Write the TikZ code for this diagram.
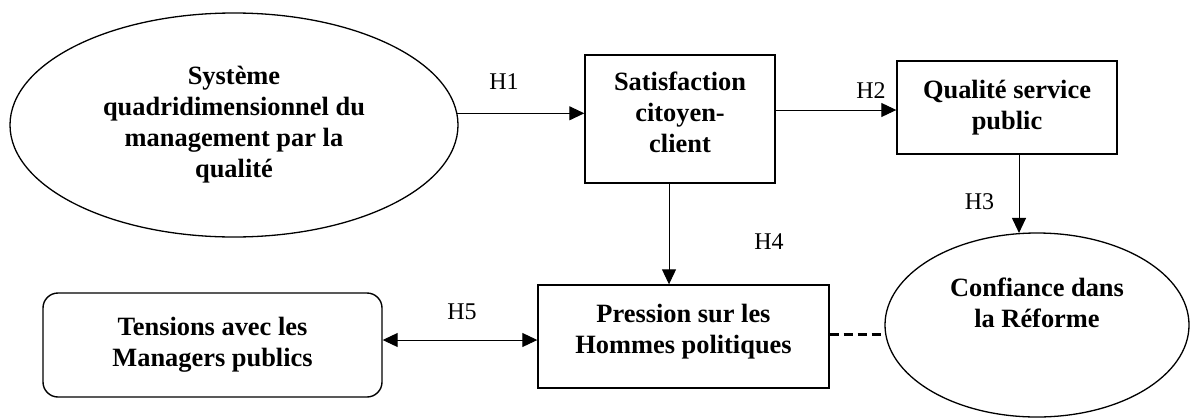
\documentclass[tikz,border=0pt]{standalone}
\usepackage{fontspec}
\setmainfont{Liberation Serif}
\usetikzlibrary{shapes.geometric,arrows.meta}
\newcommand{\diagbf}{\fontsize{26.4}{31}\selectfont\bfseries}
\newcommand{\diaghl}{\fontsize{24}{28}\selectfont}
\begin{document}
\begin{tikzpicture}[x=1pt,y=-1pt,
  box/.style={draw, rectangle, line width=1.4pt, inner sep=0pt, font=\diagbf, align=center},
  rbox/.style={box, rounded corners=15pt},
  ell/.style={draw, ellipse, line width=1.3pt, inner sep=0pt, font=\diagbf, align=center},
  txt/.style={inner sep=0pt, font=\diagbf, align=center},
  hl/.style={inner sep=0pt, font=\diaghl},
  arr/.style={-{Triangle[length=15pt,width=14pt]}, line width=1pt},
  dblarr/.style={{Triangle[length=15pt,width=14pt]}-{Triangle[length=15pt,width=14pt]}, line width=1pt},
  dashline/.style={line width=3pt, dash pattern=on 9pt off 5pt}]
\useasboundingbox (0,0) rectangle (1190,418);

% nodes
\node[ell, minimum width=448pt, minimum height=224pt] (A) at (234,125)
  {Système\\quadridimensionnel du\\management par la\\qualité};
\node[box, minimum width=190pt, minimum height=128pt] (S) at (680,119) {};
\node[txt] (St) at (680,112) {Satisfaction\\citoyen-\\client};
\node[box, minimum width=220pt, minimum height=93pt] (Q) at (1007,107.5)
  {Qualité service\\public};
\node[draw, ellipse, line width=1.3pt, inner sep=0pt, minimum width=304pt, minimum height=184pt] (C) at (1037,325) {};
\node[txt] (Ct) at (1037,303) {Confiance dans\\la Réforme};
\node[box, minimum width=291pt, minimum height=103pt] (P) at (683.5,336.5) {};
\node[txt] (Pt) at (683.5,331.5) {Pression sur les\\Hommes politiques};
\node[rbox, minimum width=339pt, minimum height=104pt] (T) at (212.5,345)
  {Tensions avec les\\Managers publics};

% labels
\node[hl] (h1) at (504,82) {H1};
\node[hl] (h2) at (871,90.5) {H2};
\node[hl] (h3) at (979.5,201.5) {H3};
\node[hl] (h4) at (769,241.5) {H4};
\node[hl] (h5) at (462,312) {H5};

% connectors
\draw[arr] (A.3.9) -- (A.3.9 -| S.west);
\draw[arr] ([yshift=9pt]S.east) -- ([yshift=9pt]S.east -| Q.west);
\draw[arr] ([xshift=-11pt]S.south) -- ([xshift=-11pt]S.south |- P.north);
\draw[arr] ([xshift=12pt]Q.south) -- ([xshift=12pt,yshift=-0.6pt]Q.south |- C.north);
\draw[dblarr] ([yshift=5pt]T.east) -- ([yshift=5pt]T.east -| P.west);
\draw[dashline] ([yshift=2.5pt]P.east) -- ([yshift=2.5pt]P.east -| C.west);
\end{tikzpicture}
\end{document}
